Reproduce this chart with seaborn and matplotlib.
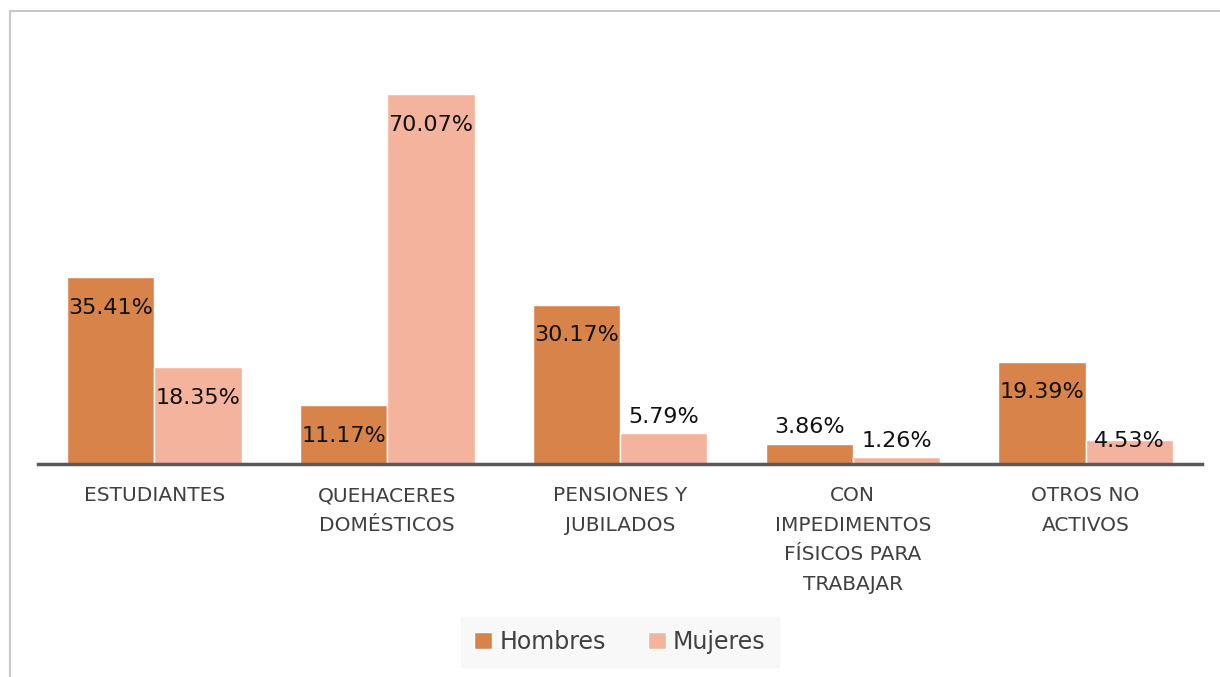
import pandas as pd
import seaborn as sns
import matplotlib.pyplot as plt
from matplotlib.patches import Patch
from matplotlib.lines import Line2D

categorias = ["ESTUDIANTES", "QUEHACERES\nDOMÉSTICOS", "PENSIONES Y\nJUBILADOS",
              "CON\nIMPEDIMENTOS\nFÍSICOS PARA\nTRABAJAR", "OTROS NO\nACTIVOS"]
hombres = [35.41, 11.17, 30.17, 3.86, 19.39]
mujeres = [18.35, 70.07, 5.79, 1.26, 4.53]
# label placement per bar: inside top or above
pos_h = ["in", "in", "in", "out", "in"]
pos_m = ["in", "in", "out", "out", "top"]

colors = ["#D8834A", "#F4B39C"]

df = pd.DataFrame({
    "cat": categorias * 2,
    "val": hombres + mujeres,
    "sexo": ["Hombres"] * 5 + ["Mujeres"] * 5,
})

sns.set_style("white")
plt.rcParams['font.family'] = ['DejaVu Sans']

fig = plt.figure(figsize=(12.2, 6.77), dpi=100)
ax = fig.add_axes([38 / 1220, 213 / 677, 1164 / 1220, 424 / 677])

sns.barplot(data=df, x="cat", y="val", hue="sexo", palette=colors, width=0.75,
            edgecolor="white", linewidth=1, saturation=1, ax=ax, legend=False)

ax.set_ylim(0, 80.3)
ax.set_xlim(-0.5, 4.5)
ax.set_xlabel("")
ax.set_ylabel("")
ax.set_yticks([])
for s in ["top", "right", "left"]:
    ax.spines[s].set_visible(False)
ax.spines["bottom"].set_color("#595959")
ax.spines["bottom"].set_linewidth(2.5)
ax.tick_params(axis="x", length=0, pad=16, labelsize=14.5, labelcolor="#404040")
for t in ax.get_xticklabels():
    t.set_linespacing(1.7)
    t.set_verticalalignment("top")

offs = {"in": -22, "out": 12, "top": -1}
for cont, vals, pos in zip(ax.containers, [hombres, mujeres], [pos_h, pos_m]):
    for bar, v, p in zip(cont, vals, pos):
        ax.annotate(f"{v:.2f}%", (bar.get_x() + bar.get_width() / 2, v),
                    xytext=(0, offs[p]), textcoords="offset points",
                    ha="center", va="center", fontsize=16, color="#111111")

# outer chart border (partially visible)
fig.add_artist(Line2D([10 / 1220, 1.01], [1 - 11 / 677, 1 - 11 / 677],
                      transform=fig.transFigure, color="#c8c8c8", lw=1.5))
fig.add_artist(Line2D([10 / 1220, 10 / 1220], [-0.01, 1 - 11 / 677],
                      transform=fig.transFigure, color="#c8c8c8", lw=1.5))

handles = [Patch(facecolor=colors[0], edgecolor="white"),
           Patch(facecolor=colors[1], edgecolor="white")]
leg = fig.legend(handles, ["Hombres", "Mujeres"], loc="center", bbox_to_anchor=(620 / 1220, 35 / 677),
                 ncol=2, frameon=True, fontsize=17, handlelength=0.75, handleheight=0.75,
                 handletextpad=0.3, columnspacing=1.8, borderpad=0.55, borderaxespad=0,
                 fancybox=False)
leg.get_frame().set_facecolor("#f7f7f7")
leg.get_frame().set_edgecolor("#f7f7f7")
for t in leg.get_texts():
    t.set_color("#404040")

fig.savefig("out.png", dpi=100)
